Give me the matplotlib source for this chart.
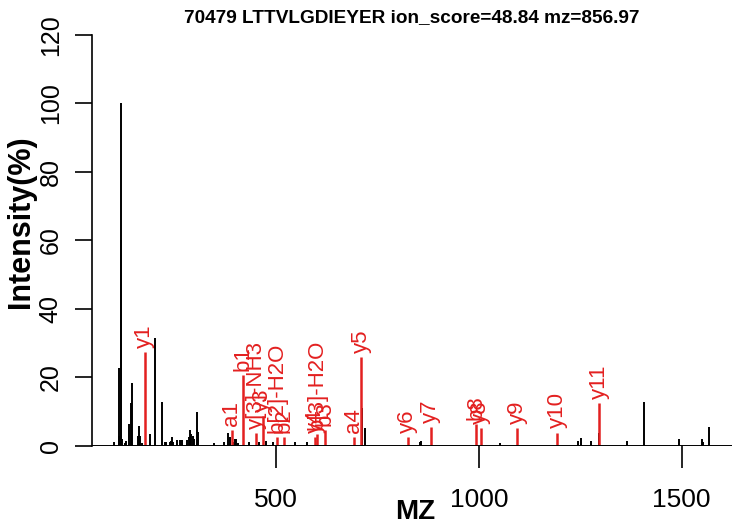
import numpy as np
import matplotlib.pyplot as plt

plt.rcParams['font.family'] = ['Liberation Sans', 'DejaVu Sans']

# unmatched peaks (black)
mzBlack = [101.5, 112.2, 113.8, 117.1, 118.0, 121.2, 127.8, 131.0, 137.7, 143.4,
           145.9, 159.0, 162.3, 164.8, 170.5, 189.4, 201.0, 219.8, 225.6, 228.9,
           238.7, 241.2, 243.7, 246.9, 256.8, 263.4, 267.5, 279.9, 284.8, 287.3,
           290.5, 294.6, 298.7, 304.5, 307.0, 347.2, 371.8, 382.6, 386.6, 394.9,
           399.0, 401.5, 407.2, 433.5, 459.0, 475.4, 491.8, 546.8, 577.2, 711.0,
           719.4, 855.9, 857.4, 1052.0, 1245.0, 1251.0, 1276.5, 1297.0, 1364.4, 1408.0,
           1493.4, 1549.3, 1551.7, 1567.3]
intBlack = [1.3, 3.0, 22.8, 60.0, 100.0, 2.0, 1.0, 1.5, 6.4, 12.5,
            18.5, 3.0, 5.7, 3.0, 1.0, 3.5, 31.5, 12.8, 1.3, 1.2,
            1.2, 1.5, 2.5, 1.2, 1.8, 1.8, 1.8, 1.8, 2.5, 4.7,
            3.5, 3.0, 2.0, 10.0, 4.0, 1.0, 1.3, 3.7, 2.5, 1.2,
            2.0, 2.0, 1.0, 1.2, 1.2, 1.5, 1.2, 1.2, 1.2, 11.0,
            5.2, 1.3, 1.5, 1.0, 1.5, 2.4, 1.5, 3.8, 1.5, 12.7,
            2.0, 2.0, 1.2, 5.4]

# matched fragment ions (red)
mzIon = [176.3, 390.8, 418.0, 450.7, 467.2, 503.0, 520.6, 596.2, 601.9, 620.8,
         691.5, 709.5, 824.6, 881.2, 993.0, 1004.5, 1094.0, 1193.5, 1296.0]
intIon = [27.5, 4.7, 20.7, 3.7, 8.8, 2.5, 2.5, 2.7, 3.4, 4.7,
          2.6, 25.9, 2.5, 5.5, 6.5, 5.3, 5.2, 3.9, 12.6]
ionLabels = ['y1', 'a1', 'b1', 'y[3]-NH3', 'y3', 'b[2]-H2O', 'b2', 'y4', 'b[3]-H2O', 'b3',
             'a4', 'y5', 'y6', 'y7', 'b8', 'y8', 'y9', 'y10', 'y11']

fig = plt.figure(figsize=(7.32, 5.30), dpi=100)
ax = fig.add_axes([0.1257, 0.1585, 0.8743, 0.7755])

ax.vlines(mzBlack, 0, intBlack, color='black', linewidth=1.4)
ax.vlines(mzIon, 0, intIon, color='#e32020', linewidth=1.8)
for x, y, s in zip(mzIon, intIon, ionLabels):
    ax.annotate(s, (x, y), xytext=(0, 3), textcoords='offset points',
                rotation=90, ha='center', va='bottom', color='#e32020', fontsize=16)

ax.axhline(0, color='black', linewidth=1.4)

ax.set_xlim(46.5, 1624)
ax.set_ylim(0, 120)
ax.set_xticks([500, 1000, 1500])
ax.set_yticks([0, 20, 40, 60, 80, 100, 120])

for s in ['top', 'right', 'bottom']:
    ax.spines[s].set_visible(False)
ax.spines['left'].set_linewidth(1.2)

ax.tick_params(axis='x', length=16, width=1.2, pad=14, labelsize=19)
ax.tick_params(axis='y', length=12, width=1.2, pad=9, labelsize=18, labelrotation=90)
for lbl in ax.get_yticklabels():
    lbl.set_va('center')

ax.set_title('70479 LTTVLGDIEYER ion_score=48.84 mz=856.97', fontsize=13.7, fontweight='bold', pad=9)
ax.set_xlabel('MZ', fontsize=20, fontweight='bold')
ax.xaxis.set_label_coords(0.505, -0.128)
ax.set_ylabel('Intensity(%)', fontsize=22, fontweight='bold')
ax.yaxis.set_label_coords(-0.088, 0.546)

fig.savefig('out.png', dpi=100)
